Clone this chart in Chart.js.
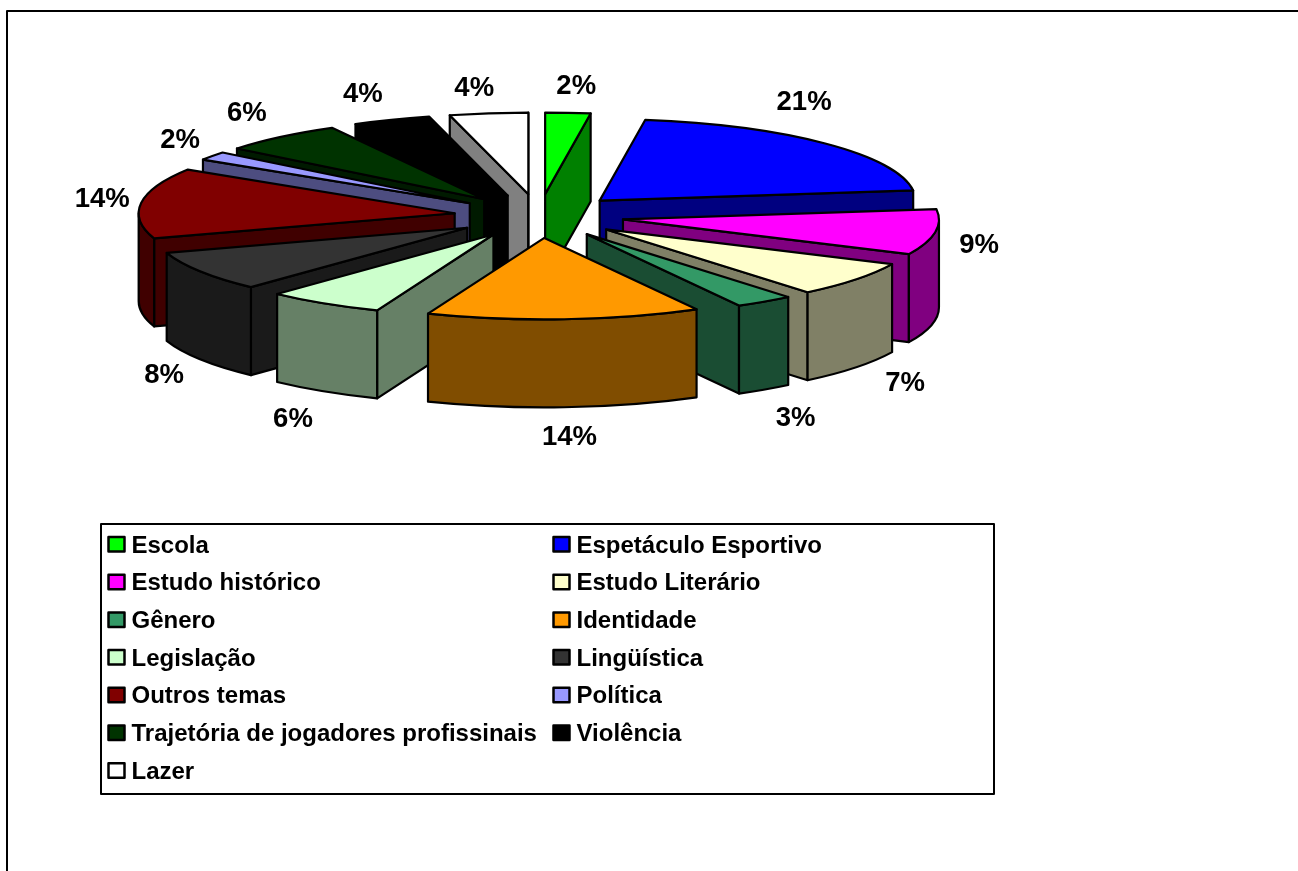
<!DOCTYPE html>
<html><head><meta charset="utf-8">
<style>html,body{margin:0;padding:0;background:#fff;overflow:hidden}canvas{display:block}</style>
<script src="https://cdn.jsdelivr.net/npm/chart.js@4"></script></head>
<body><canvas id="c" width="1298" height="871"></canvas>
<script>
const categories = ["Escola","Espetáculo Esportivo","Estudo histórico","Estudo Literário","Gênero","Identidade","Legislação","Lingüística","Outros temas","Política","Trajetória de jogadores profissinais","Violência","Lazer"];
const percentValues = [2.3,20.7,9,7,3,14,6,8,14,1.7,6.3,4,4];
const sliceColors = ["#00FF00","#0000FF","#FF00FF","#FFFFCC","#339966","#FF9900","#CCFFCC","#333333","#800000","#9999FF","#003300","#000000","#FFFFFF"];
const wallColors = ["#008000","#000080","#800080","#808066","#1A4D33","#804D00","#668066","#1A1A1A","#400000","#4D4D80","#001A00","#000000","#808080"];
const labelNudge = [[7,-27],[-25,-42],[39,13],[45,104],[28,117],[4,118],[-30,116],[-34,104],[-36,-4],[-30,-16],[-32,-24],[-28,-26],[-15,-26]];

const VIEW = {cx:539, cy:216, tilt:0.258, depth:88, explode:85, line:2.2, labelR:405, labelCx:540, labelCy:216.5, labelTilt:0.255};
const FONT = 'bold 24px "Liberation Sans", Arial, sans-serif';
const LABEL_FONT = 'bold 27.5px "Liberation Sans", Arial, sans-serif';

const pie3d = {
  id:'pie3d',
  beforeDatasetsDraw(chart){
    const ctx = chart.ctx, k = VIEW.tilt, D = VIEW.depth, off = VIEW.explode;
    const meta = chart.getDatasetMeta(0);
    const order = meta.data.map((el,i)=>i).sort((a,b)=>{
      const m = i => (meta.data[i].startAngle + meta.data[i].endAngle)/2;
      return Math.sin(m(a)) - Math.sin(m(b));
    });
    ctx.lineWidth = VIEW.line; ctx.strokeStyle = '#000'; ctx.lineJoin = 'round';
    order.forEach(i=>{
      const el = meta.data[i], R = el.outerRadius;
      const mid = (el.startAngle + el.endAngle)/2;
      const x0 = VIEW.cx + Math.cos(mid)*off, y0 = VIEW.cy + Math.sin(mid)*off*k;
      ctx.fillStyle = wallColors[i];
      const wall = a => {
        const px = x0 + R*Math.cos(a), py = y0 + k*R*Math.sin(a);
        ctx.beginPath(); ctx.moveTo(x0,y0); ctx.lineTo(px,py); ctx.lineTo(px,py+D); ctx.lineTo(x0,y0+D); ctx.closePath();
        ctx.fill(); ctx.stroke();
      };
      if (Math.cos(el.startAngle) < 0) wall(el.startAngle);
      if (Math.cos(el.endAngle) > 0) wall(el.endAngle);
      const a0 = Math.max(el.startAngle,0), a1 = Math.min(el.endAngle,Math.PI);
      if (a1 > a0){
        ctx.beginPath();
        ctx.ellipse(x0,y0,R,k*R,0,a0,a1);
        ctx.ellipse(x0,y0+D,R,k*R,0,a1,a0,true);
        ctx.closePath(); ctx.fill(); ctx.stroke();
      }
      ctx.save();
      ctx.translate(x0, y0); ctx.scale(1,k); ctx.translate(-el.x,-el.y);
      el.draw(ctx);
      ctx.restore();
      ctx.beginPath();
      ctx.moveTo(x0,y0);
      ctx.ellipse(x0,y0,R,R*k,0,el.startAngle,el.endAngle);
      ctx.closePath(); ctx.stroke();
    });
    return false;
  },
  afterDraw(chart){
    const ctx = chart.ctx;
    const meta = chart.getDatasetMeta(0);
    ctx.save();
    ctx.strokeStyle = '#000'; ctx.lineWidth = 2;
    ctx.beginPath(); ctx.moveTo(7,871); ctx.lineTo(7,11); ctx.lineTo(1298,11); ctx.stroke();
    // data labels
    ctx.fillStyle = '#000'; ctx.font = LABEL_FONT; ctx.textAlign='center'; ctx.textBaseline='middle';
    meta.data.forEach((el,i)=>{
      const mid = (el.startAngle + el.endAngle)/2, r = VIEW.labelR;
      ctx.fillText(Math.round(percentValues[i]) + '%', VIEW.labelCx + r*Math.cos(mid) + labelNudge[i][0], VIEW.labelCy + VIEW.labelTilt*r*Math.sin(mid) + labelNudge[i][1]);
    });
    // legend
    ctx.lineWidth = 2;
    ctx.strokeRect(101,524,893,270);
    ctx.font = FONT; ctx.textAlign='left';
    categories.forEach((name,i)=>{
      const col = i%2, row = Math.floor(i/2);
      const y = 546 + row*37.7, x = col ? 553.5 : 108.5;
      ctx.lineWidth = 2.5;
      ctx.fillStyle = sliceColors[i];
      ctx.fillRect(x,y-9,16,14.5); ctx.strokeRect(x,y-9,16,14.5);
      ctx.fillStyle = '#000';
      ctx.fillText(name, x+23, y);
    });
    ctx.restore();
  }
};
new Chart(document.getElementById('c'),{
  type:'pie',
  data:{labels:categories,datasets:[{data:percentValues,backgroundColor:sliceColors,borderWidth:0}]},
  options:{responsive:false,animation:false,radius:316,
    plugins:{legend:{display:false},tooltip:{enabled:false}}},
  plugins:[pie3d]
});
</script></body></html>
